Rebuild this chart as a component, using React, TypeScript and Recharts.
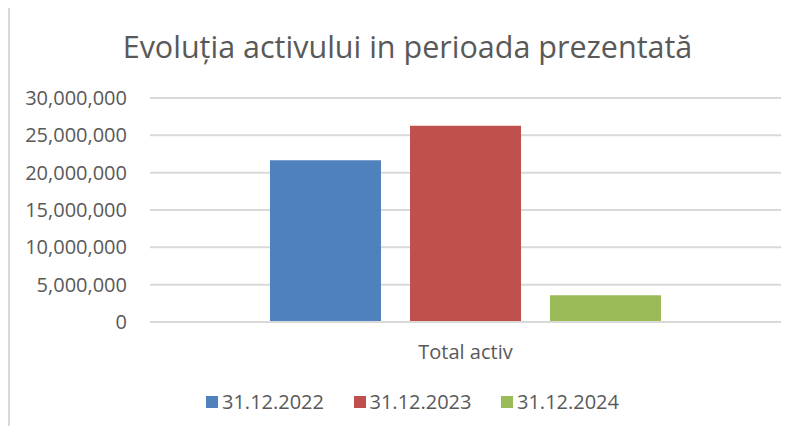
import React from "react";
import { BarChart, Bar, XAxis, YAxis, CartesianGrid, Legend } from "recharts";

const categories = ["Total activ"];
const series = ["31.12.2022", "31.12.2023", "31.12.2024"];
const values2022 = [21670000];
const values2023 = [26280000];
const values2024 = [3590000];
const yTicks = [0, 5000000, 10000000, 15000000, 20000000, 25000000, 30000000];

const COLORS = ["#4F81BD", "#C0504D", "#9BBB59"];
const TEXT = "#595959";
const FONT = "'Open Sans', sans-serif";

const data = categories.map((name, i) => ({
  name,
  [series[0]]: values2022[i],
  [series[1]]: values2023[i],
  [series[2]]: values2024[i],
}));

const fmt = (v: number) => v.toLocaleString("en-US");

function LegendContent({ payload }: any) {
  return (
    <div style={{ display: "flex", paddingLeft: 206, fontFamily: FONT, fontSize: 20, color: TEXT, lineHeight: "24px" }}>
      {(payload || []).map((p: any) => (
        <div key={p.value} style={{ display: "flex", alignItems: "center", marginRight: 29.5 }}>
          <span style={{ width: 12, height: 12, background: p.color, display: "inline-block", marginRight: 4 }} />
          <span>{p.value}</span>
        </div>
      ))}
    </div>
  );
}

export default function App() {
  return (
    <div style={{ position: "relative", width: 799, height: 434, margin: -8, overflow: "hidden", background: "#fff" }}>
      <div
        style={{
          position: "absolute",
          left: 8,
          top: 5,
          width: 820,
          height: 460,
          borderTop: "2px solid #D9D9D9",
          borderLeft: "2px solid #D9D9D9",
        }}
      />
      <div
        style={{
          position: "absolute",
          top: 25,
          left: 0,
          width: 815,
          textAlign: "center",
          fontFamily: FONT,
          fontSize: 30.5,
          lineHeight: "42px",
          color: TEXT,
        }}
      >
        Evoluția activului in perioada prezentată
      </div>
      <BarChart
        width={799}
        height={434}
        data={data}
        margin={{ top: 98, right: 18, left: 0, bottom: 58 }}
        barCategoryGap={120}
        barGap={29}
        style={{ position: "absolute", top: 0, left: 0 }}
      >
        <CartesianGrid vertical={false} stroke="#D9D9D9" strokeWidth={2} />
        <XAxis
          dataKey="name"
          height={30}
          axisLine={{ stroke: "#D9D9D9", strokeWidth: 2 }}
          tickLine={false}
          tick={{ fill: TEXT, fontSize: 20, fontFamily: FONT }}
          tickMargin={17}
        />
        <YAxis
          width={150}
          domain={[0, 30000000]}
          ticks={yTicks}
          tickFormatter={fmt}
          axisLine={false}
          tickLine={false}
          tickSize={0}
          tickMargin={23}
          tick={{ fill: TEXT, fontSize: 20, fontFamily: FONT }}
        />
        <Legend
          content={<LegendContent />}
          wrapperStyle={{ position: "absolute", top: 390, left: 0, width: 799 }}
        />
        {series.map((s, i) => (
          <Bar key={s} dataKey={s} fill={COLORS[i]} isAnimationActive={false} />
        ))}
      </BarChart>
    </div>
  );
}
